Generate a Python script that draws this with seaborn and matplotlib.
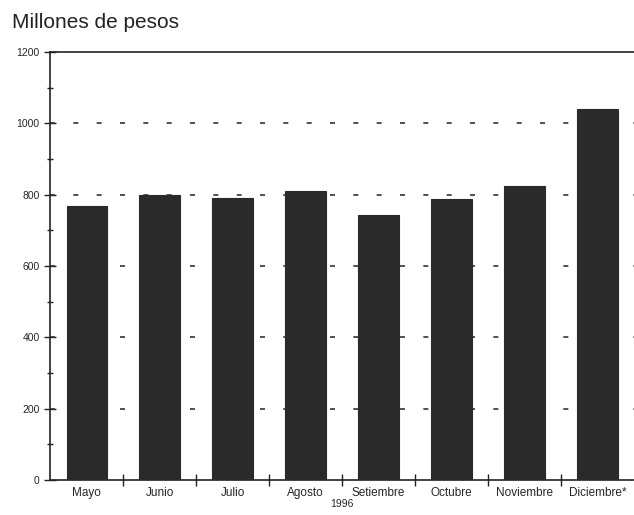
import matplotlib
matplotlib.use("Agg")
import matplotlib.pyplot as plt
import seaborn as sns
import pandas as pd
import numpy as np
from matplotlib.ticker import MultipleLocator, FixedLocator

meses = ["Mayo", "Junio", "Julio", "Agosto", "Setiembre", "Octubre", "Noviembre", "Diciembre*"]
valores = [768, 799, 790, 810, 743, 788, 824, 1040]
y_ticks = [0, 200, 400, 600, 800, 1000, 1200]

sns.set_style("white")
plt.rcParams['font.family'] = ['Liberation Sans', 'DejaVu Sans']

df = pd.DataFrame({"mes": meses, "valor": valores})

fig = plt.figure(figsize=(6.34, 5.15), dpi=100)
ax = fig.add_axes([0.079, 0.068, 0.921, 0.831])

sns.barplot(data=df, x="mes", y="valor", color="#2a2a2a", width=0.55,
            saturation=1, ax=ax, zorder=3, edgecolor="#2a2a2a", linewidth=0.8)

ax.set_xlim(-0.5, len(meses) - 0.5)
ax.set_ylim(0, 1200)
ax.yaxis.set_major_locator(FixedLocator(y_ticks))
ax.yaxis.set_minor_locator(MultipleLocator(100))
ax.set_yticklabels([str(t) for t in y_ticks], fontsize=7.5)
ax.set_xticks(range(len(meses)))
ax.set_xticklabels(meses, fontsize=8.5)
ax.xaxis.set_minor_locator(FixedLocator(np.arange(0.5, len(meses) - 0.5, 1)))

ax.tick_params(axis="both", which="both", left=True, bottom=True)
ax.tick_params(axis="x", which="major", length=0, pad=5)
ax.tick_params(axis="x", which="minor", direction="inout", length=9, width=1, color="#222222")
ax.tick_params(axis="y", which="major", direction="inout", length=9, width=1, color="#222222", pad=3)
ax.tick_params(axis="y", which="minor", direction="inout", length=5, width=1, color="#222222")

for g in [200, 400, 600, 800, 1000]:
    ax.axhline(g, color="#333333", lw=1.2, ls=(0, (3, 11)), zorder=1)

for s in ["left", "bottom", "top"]:
    ax.spines[s].set_visible(True)
    ax.spines[s].set_color("#222222")
    ax.spines[s].set_linewidth(1.2)
ax.spines["right"].set_visible(False)

ax.set_xlabel("1996", fontsize=7.5, labelpad=0)
ax.set_ylabel("")
fig.text(0.019, 0.957, "Millones de pesos", fontsize=15, color="#222222", ha="left", va="center")

fig.savefig("out.png", dpi=100, facecolor="white")
